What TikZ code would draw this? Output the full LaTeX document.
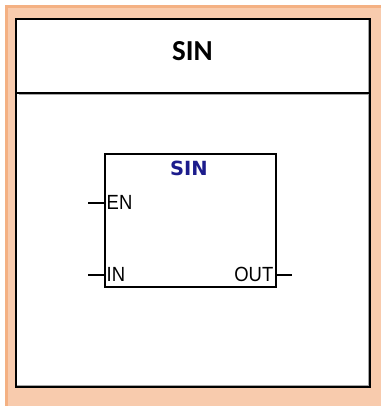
\documentclass[tikz,border=0pt]{standalone}
\usepackage{fontspec}
\setmainfont{Carlito}
\newfontfamily\blkfont{DejaVu Sans}
\newfontfamily\pinfont{Liberation Sans}
\definecolor{peach}{HTML}{F8CBAD}
\definecolor{peachdark}{HTML}{F4B183}
\definecolor{navy}{HTML}{1C1C8C}
\newcommand{\pintext}[1]{\scalebox{0.9}[1]{#1}}
\begin{document}
\begin{tikzpicture}[x=1pt,y=-1pt,
  frame/.style={draw=black,line width=2.2pt},
  pinline/.style={draw=black,line width=1.6pt},
  pinlabel/.style={font=\pinfont\fontsize{20.5}{20.5}\selectfont,inner sep=0pt},
  header/.style={font=\bfseries\fontsize{29}{29}\selectfont,inner sep=0pt},
  blktitle/.style={font=\blkfont\bfseries\fontsize{19.5}{19.5}\selectfont,text=navy,inner sep=0pt}]
\useasboundingbox (0,0) rectangle (381,406);
% background
\fill[peach] (5,5) rectangle (381,406);
\fill[peachdark] (5,5) rectangle (381,8);
\fill[peachdark] (5,5) rectangle (8,406);
% inner frame
\fill[white] (16,19) rectangle (370,387);
\draw[gray!70,line width=1.3pt] (18.5,94.6) -- (368.3,94.6);
\draw[gray!70,line width=1.3pt] (368.3,20) -- (368.3,385.3) -- (17,385.3);
\draw[frame] (16,19) rectangle (370,387);
\draw[line width=1.6pt] (16,93) -- (370,93);
\node[header] (head) at (192.5,51) {SIN};
% block
\node[draw=black,line width=1.8pt,minimum width=171pt,minimum height=133pt,inner sep=0pt] (blk) at (190.5,220.5) {};
\node[blktitle] (btitle) at (189,168.5) {SIN};
\node[pinlabel,anchor=west] (en) at (106.5,202.5) {\pintext{EN}};
\node[pinlabel,anchor=west] (in) at (106.5,274.5) {\pintext{IN}};
\node[pinlabel,anchor=east] (out) at (273.5,274.5) {\pintext{OUT}};
\coordinate (enpin) at (88,203);
\coordinate (inpin) at (88,275);
\coordinate (outpin) at (292,275);
\draw[pinline] (enpin) -- (blk.west |- enpin);
\draw[pinline] (inpin) -- (blk.west |- inpin);
\draw[pinline] (blk.east |- outpin) -- (outpin);
\end{tikzpicture}
\end{document}
